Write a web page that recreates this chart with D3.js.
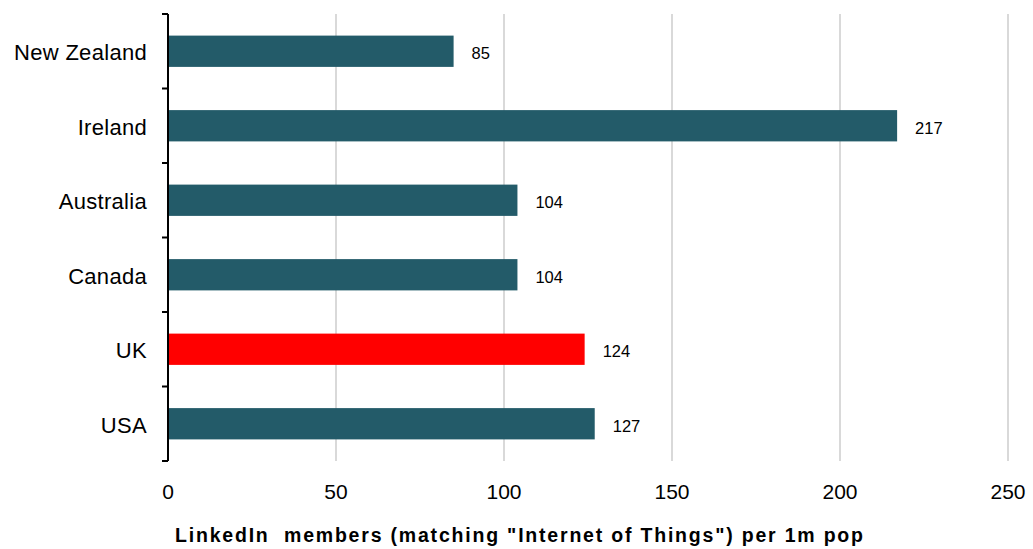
<!DOCTYPE html>
<html><head><meta charset="utf-8">
<script src="https://cdn.jsdelivr.net/npm/d3@7"></script>
<style>body{margin:0;background:#fff}svg{display:block}</style>
</head><body><svg id="c" width="1033" height="549"></svg>
<script>
const categories = ["New Zealand","Ireland","Australia","Canada","UK","USA"];
const values = [85,217,104,104,124,127];
const colors = ["#235b69","#235b69","#235b69","#235b69","#ff0000","#235b69"];
const xTicks = [0,50,100,150,200,250];
const xTitle = 'LinkedIn  members (matching "Internet of Things") per 1m pop';

const svg = d3.select("#c");
const x = d3.scaleLinear().domain([0,250]).range([168,1008]);
const y = d3.scaleBand().domain(categories).range([14,461]).paddingInner(0.58).paddingOuter(0.29);
const font = "Liberation Sans, Arial, sans-serif";

// gridlines
svg.append("g").selectAll("line").data(xTicks.filter(d=>d>0)).join("line")
  .attr("x1",d=>x(d)).attr("x2",d=>x(d)).attr("y1",14).attr("y2",461)
  .attr("stroke","#d9d9d9").attr("stroke-width",2);

// bars
svg.append("g").selectAll("rect").data(categories).join("rect")
  .attr("x",x(0)).attr("y",d=>y(d))
  .attr("width",(d,i)=>x(values[i])-x(0)).attr("height",y.bandwidth())
  .attr("fill",(d,i)=>colors[i]);

// value labels
svg.append("g").selectAll("text").data(categories).join("text")
  .attr("x",(d,i)=>x(values[i])+18).attr("y",d=>y(d)+y.bandwidth()/2+8)
  .attr("font-family",font).attr("font-size",16.5).attr("fill","#000")
  .text((d,i)=>values[i]);

// y axis
const step = (461-14)/categories.length;
const bounds = d3.range(categories.length+1).map(i=>14+i*step);
const ya = svg.append("g");
ya.append("line").attr("x1",168).attr("x2",168).attr("y1",14).attr("y2",461).attr("stroke","#000").attr("stroke-width",2);
ya.selectAll("line.t").data(bounds).join("line").attr("class","t")
  .attr("x1",162).attr("x2",168).attr("y1",d=>d).attr("y2",d=>d).attr("stroke","#000").attr("stroke-width",2);
ya.selectAll("text").data(categories).join("text")
  .attr("x",147).attr("y",d=>y(d)+y.bandwidth()/2+9)
  .attr("text-anchor","end").attr("font-family",font).attr("font-size",22).attr("fill","#000")
  .attr("letter-spacing",0.3)
  .text(d=>d);

// x tick labels
svg.append("g").selectAll("text").data(xTicks).join("text")
  .attr("x",d=>x(d)).attr("y",499).attr("text-anchor","middle")
  .attr("font-family",font).attr("font-size",21).attr("fill","#000").text(d=>d);

// x title
svg.append("text").attr("x",175).attr("y",542)
  .attr("font-family",font).attr("font-size",19.5).attr("font-weight","bold").attr("fill","#000")
  .attr("textLength",688).attr("lengthAdjust","spacing")
  .attr("xml:space","preserve").style("white-space","pre").text(xTitle);
</script></body></html>
